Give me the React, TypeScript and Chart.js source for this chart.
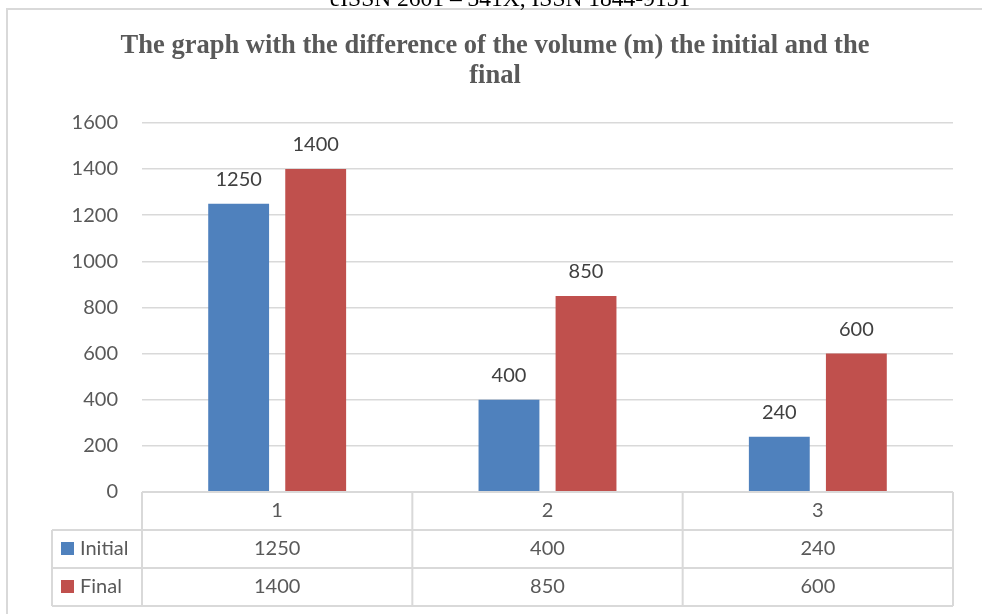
import React, { useEffect, useRef } from "react";
import { Chart, registerables } from "chart.js";

Chart.register(...registerables);

// Chart data
const categories = ["1", "2", "3"];
const seriesNames = ["Initial", "Final"];
const initialValues = [1250, 400, 240];
const finalValues = [1400, 850, 600];
const yMin = 0;
const yMax = 1600;
const yStep = 200;
const titleLines = [
  "The graph with the difference of the volume (m) the initial and the",
  "final",
];
const headerText = "eISSN 2601 – 341X, ISSN 1844-9131";

const BLUE = "#4F81BD";
const RED = "#C0504D";
const GRID = "#D9D9D9";
const TEXT = "#595959";
const LABEL = "#404040";
const SANS = "Lato, 'Open Sans', sans-serif";
const SERIF = "'Liberation Serif', 'DejaVu Serif', serif";

const ROW_H = 38;
const LEGEND_COL_LEFT = 52;

// Page frame and the running header above the chart box
const framePlugin = {
  id: "frame",
  beforeDraw(chart: any) {
    const { ctx, width, height } = chart;
    ctx.save();
    ctx.strokeStyle = GRID;
    ctx.lineWidth = 2;
    ctx.beginPath();
    ctx.moveTo(7, height);
    ctx.lineTo(7, 9);
    ctx.lineTo(width, 9);
    ctx.stroke();
    ctx.fillStyle = "#000";
    ctx.font = `23.5px ${SERIF}`;
    ctx.textAlign = "center";
    ctx.textBaseline = "alphabetic";
    ctx.fillText(headerText, 510, 6);
    ctx.restore();
  },
};

// Value labels above each bar
const valueLabelPlugin = {
  id: "valueLabels",
  afterDatasetsDraw(chart: any) {
    const { ctx } = chart;
    ctx.save();
    ctx.font = `20px ${SANS}`;
    ctx.fillStyle = LABEL;
    ctx.textAlign = "center";
    ctx.textBaseline = "middle";
    chart.data.datasets.forEach((ds: any, di: number) => {
      const meta = chart.getDatasetMeta(di);
      meta.data.forEach((bar: any, i: number) => {
        ctx.fillText(String(ds.data[i]), bar.x, bar.y - 24);
      });
    });
    ctx.restore();
  },
};

// Data table under the plot, aligned to the category axis
const dataTablePlugin = {
  id: "dataTable",
  afterDraw(chart: any) {
    const { ctx, chartArea, scales } = chart;
    const x = scales.x;
    const left = chartArea.left;
    const right = chartArea.right;
    const top = chartArea.bottom;
    const n = categories.length;
    const colW = (right - left) / n;
    const bottom = top + ROW_H * 3;

    ctx.save();
    ctx.strokeStyle = GRID;
    ctx.lineWidth = 2;
    ctx.beginPath();
    // horizontal rules
    ctx.moveTo(left, top);
    ctx.lineTo(right, top);
    for (let r = 1; r <= 3; r++) {
      ctx.moveTo(LEGEND_COL_LEFT, top + ROW_H * r);
      ctx.lineTo(right, top + ROW_H * r);
    }
    // vertical rules
    ctx.moveTo(LEGEND_COL_LEFT, top + ROW_H);
    ctx.lineTo(LEGEND_COL_LEFT, bottom);
    for (let c = 0; c <= n; c++) {
      const cx = left + colW * c;
      ctx.moveTo(cx, top);
      ctx.lineTo(cx, bottom);
    }
    ctx.stroke();

    ctx.font = `20px ${SANS}`;
    ctx.fillStyle = TEXT;
    ctx.textBaseline = "middle";
    ctx.textAlign = "center";
    categories.forEach((cat, i) => {
      const cx = x.getPixelForValue(i);
      ctx.fillText(cat, cx, top + ROW_H / 2);
    });

    chart.data.datasets.forEach((ds: any, di: number) => {
      const rowMid = top + ROW_H * (di + 1) + ROW_H / 2;
      ctx.textAlign = "center";
      ctx.fillStyle = TEXT;
      ds.data.forEach((v: number, i: number) => {
        ctx.fillText(String(v), x.getPixelForValue(i), rowMid);
      });
      ctx.fillStyle = ds.backgroundColor;
      ctx.fillRect(61, rowMid - 7, 13, 13);
      ctx.fillStyle = TEXT;
      ctx.textAlign = "left";
      ctx.fillText(ds.label, 80, rowMid);
    });
    ctx.restore();
  },
};

export default function App() {
  const canvasRef = useRef<HTMLCanvasElement | null>(null);

  useEffect(() => {
    if (!canvasRef.current) return;
    const chart = new Chart(canvasRef.current, {
      type: "bar",
      data: {
        labels: categories,
        datasets: [
          {
            label: seriesNames[0],
            data: initialValues,
            backgroundColor: BLUE,
            categoryPercentage: 0.57,
            barPercentage: 0.79,
          },
          {
            label: seriesNames[1],
            data: finalValues,
            backgroundColor: RED,
            categoryPercentage: 0.57,
            barPercentage: 0.79,
          },
        ],
      },
      options: {
        responsive: false,
        animation: false,
        layout: { padding: { left: 37, right: 29, top: 0, bottom: 0 } },
        plugins: {
          legend: { display: false },
          tooltip: { enabled: false },
          title: {
            display: true,
            text: titleLines,
            color: TEXT,
            font: { family: SERIF, size: 26.5, weight: "bold", lineHeight: 1.13 },
            padding: { top: 31, bottom: 32 },
          },
        },
        scales: {
          x: {
            grid: { display: false },
            border: { display: false },
            ticks: { display: false },
            afterFit: (scale: any) => {
              scale.height = 122;
            },
          },
          y: {
            min: yMin,
            max: yMax,
            ticks: {
              stepSize: yStep,
              padding: 24,
              color: TEXT,
              font: { family: SANS, size: 20 },
              callback: (v: any) => String(v),
            },
            grid: { color: GRID, lineWidth: 1.5, drawTicks: false },
            border: { display: false },
            afterFit: (scale: any) => {
              scale.width = 105;
            },
          },
        },
      },
      plugins: [framePlugin, valueLabelPlugin, dataTablePlugin],
    });
    return () => chart.destroy();
  }, []);

  return (
    <div style={{ position: "absolute", left: 0, top: 0, width: 982, height: 614, background: "#fff" }}>
      <canvas ref={canvasRef} width={982} height={614} />
    </div>
  );
}
